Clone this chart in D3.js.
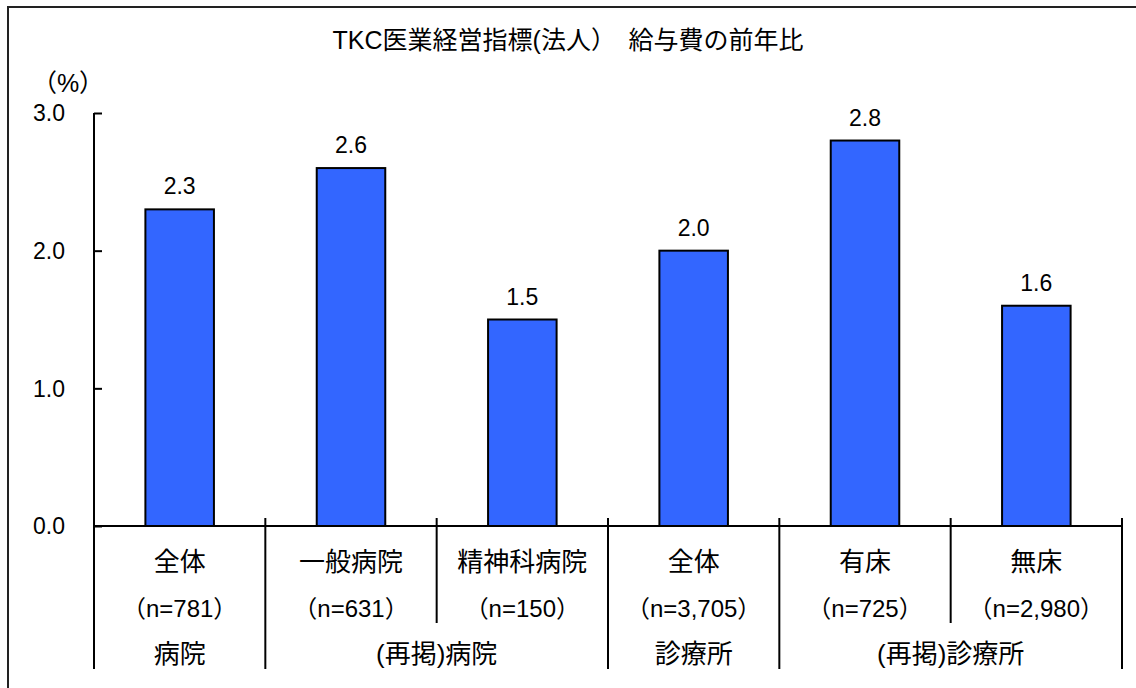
<html>
<head>
<meta charset="utf-8">
<style>
  body { margin: 0; background: #fff; }
  text { font-family: "Liberation Sans", "Noto Sans CJK JP", sans-serif; fill: #000; }
</style>
</head>
<body>
<script src="https://d3js.org/d3.v7.min.js"></script>
<svg width="1136" height="688"></svg>
<script type="text/javascript">
    // chart data
    var categories = ["全体", "一般病院", "精神科病院", "全体", "有床", "無床"];
    var counts = ["（n=781）", "（n=631）", "（n=150）", "（n=3,705）", "（n=725）", "（n=2,980）"];
    var values = [2.3, 2.6, 1.5, 2.0, 2.8, 1.6];
    var groups = ["病院", "(再掲)病院", "診療所", "(再掲)診療所"];
    var groupSpans = [1, 2, 1, 2];
    var yTicks = [0, 1, 2, 3];

    var margin = {top: 113, left: 94, right: 14, bottom: 162};
    var width = 1136 - margin.left - margin.right,
        height = 688 - margin.top - margin.bottom;

    var svg = d3.select("svg");

    // outer frame (runs off the right and bottom edges)
    svg.append("rect")
        .attr("x", 8).attr("y", 7)
        .attr("width", 1150).attr("height", 720)
        .style("fill", "none").style("stroke", "#222").style("stroke-width", 2);

    svg.append("text")
        .attr("x", 568).attr("y", 49)
        .attr("text-anchor", "middle")
        .style("font-size", "25px")
        .text("TKC医業経営指標(法人）\u3000給与費の前年比");

    svg.append("text")
        .attr("x", 68).attr("y", 92)
        .attr("text-anchor", "middle")
        .style("font-size", "25px")
        .text("（%）");

    var g = svg.append("g")
        .attr("transform", "translate(" + margin.left + "," + margin.top + ")");

    var x = d3.scaleBand()
        .domain(d3.range(categories.length))
        .range([0, width])
        .paddingInner(0.6)
        .paddingOuter(0.3);

    var step = x.step();

    var y = d3.scaleLinear()
        .domain([0, 3])
        .range([height, 0]);

    // bars
    g.selectAll(".bar").data(values).enter()
        .append("rect")
        .attr("class", "bar")
        .attr("x", function(d, i) { return x(i); })
        .attr("y", function(d) { return y(d); })
        .attr("width", x.bandwidth())
        .attr("height", function(d) { return height - y(d); })
        .style("fill", "#3366FF")
        .style("stroke", "#000")
        .style("stroke-width", 2);

    // value labels
    g.selectAll(".val").data(values).enter()
        .append("text")
        .attr("x", function(d, i) { return x(i) + x.bandwidth() / 2; })
        .attr("y", function(d) { return y(d) - 15; })
        .attr("text-anchor", "middle")
        .style("font-size", "23px")
        .text(function(d) { return d.toFixed(1); });

    // y axis: ticks inside
    var yAxis = g.append("g")
        .call(d3.axisRight(y).tickValues(yTicks).tickSize(8).tickFormat(""));
    yAxis.select(".domain").remove();
    yAxis.selectAll("line").style("stroke", "#000").style("stroke-width", 2);

    g.selectAll(".ylab").data(yTicks).enter()
        .append("text")
        .attr("x", -29)
        .attr("y", function(d) { return y(d); })
        .attr("dy", "0.36em")
        .attr("text-anchor", "end")
        .style("font-size", "23px")
        .text(function(d) { return d.toFixed(1); });

    var tableBottom = height + 143;

    // axis lines
    g.append("line")
        .attr("x1", 0).attr("x2", 0)
        .attr("y1", 0).attr("y2", tableBottom)
        .style("stroke", "#000").style("stroke-width", 2);
    g.append("line")
        .attr("x1", 0).attr("x2", width)
        .attr("y1", height).attr("y2", height)
        .style("stroke", "#000").style("stroke-width", 2);

    // category separators: full at group edges, short inside a group
    var edges = [];
    var acc = 0;
    groupSpans.forEach(function(s) {
        for (var k = 1; k < s; k++) edges.push({i: acc + k, full: false});
        acc += s;
        edges.push({i: acc, full: true});
    });
    g.selectAll(".sep").data(edges).enter()
        .append("line")
        .attr("x1", function(d) { return d.i * step; })
        .attr("x2", function(d) { return d.i * step; })
        .attr("y1", height - 8)
        .attr("y2", function(d) { return d.full ? tableBottom : height + 97; })
        .style("stroke", "#000").style("stroke-width", 2);

    // category rows
    g.selectAll(".cat").data(categories).enter()
        .append("text")
        .attr("x", function(d, i) { return x(i) + x.bandwidth() / 2; })
        .attr("y", height + 36)
        .attr("dy", "0.36em")
        .attr("text-anchor", "middle")
        .style("font-size", "26px")
        .text(function(d) { return d; });

    g.selectAll(".cnt").data(counts).enter()
        .append("text")
        .attr("x", function(d, i) { return x(i) + x.bandwidth() / 2; })
        .attr("y", height + 82)
        .attr("dy", "0.36em")
        .attr("text-anchor", "middle")
        .style("font-size", "24px")
        .text(function(d) { return d; });

    var starts = [];
    acc = 0;
    groupSpans.forEach(function(s) { starts.push(acc); acc += s; });
    g.selectAll(".grp").data(groups).enter()
        .append("text")
        .attr("x", function(d, i) { return (starts[i] + groupSpans[i] / 2) * step; })
        .attr("y", height + 128)
        .attr("dy", "0.36em")
        .attr("text-anchor", "middle")
        .style("font-size", "26px")
        .text(function(d) { return d; });
</script>
</body>
</html>
